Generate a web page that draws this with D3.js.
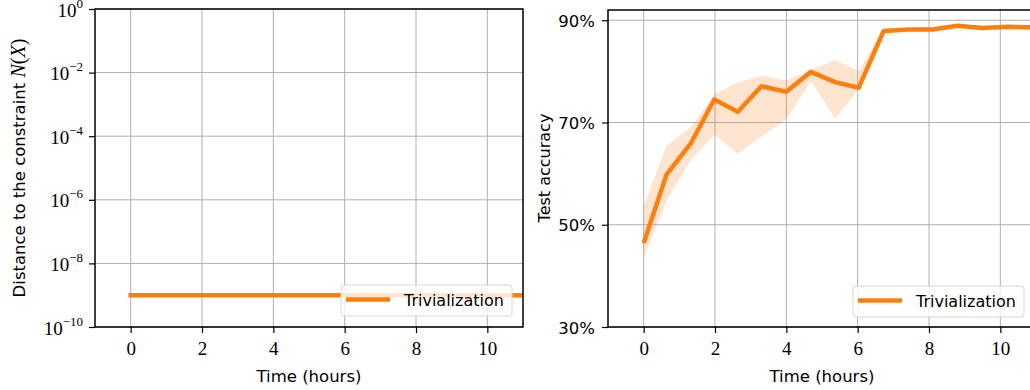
<!DOCTYPE html>
<html lang="en">
  <head>
    <meta charset="utf-8">
    <title>Trivialization</title>
    <script src="https://cdn.jsdelivr.net/npm/d3@7"></script>
    <style>
      body { margin: 0; background: #fff; }
      svg { display: block; }
      .grid line { stroke: #b0b0b0; stroke-width: 1; }
      .sans { font-family: "DejaVu Sans", sans-serif; }
      .serif { font-family: "Liberation Serif", "DejaVu Serif", serif; }
    </style>
  </head>
  <body>
    <div id="chart"></div>
    <script>

// data
var hours = [0, 0.64, 1.32, 1.98, 2.64, 3.30, 4.0, 4.69, 5.37, 6.03, 6.73, 7.42, 8.10, 8.79, 9.49, 10.2, 10.9, 11.6];
var accuracy = [46.4, 59.8, 65.9, 74.5, 72.1, 77.1, 76.0, 79.9, 77.9, 76.8, 87.9, 88.2, 88.2, 88.9, 88.5, 88.7, 88.6, 88.6];
var accUpper = [53.6, 65.4, 69.0, 75.5, 77.8, 79.2, 78.2, 80.3, 82.2, 80.1, 88.3, 88.5, 88.5, 89.1, 88.7, 88.9, 88.8, 88.8];
var accLower = [43.5, 54.6, 62.7, 67.6, 63.9, 67.3, 70.6, 78.1, 70.8, 76.5, 87.5, 87.9, 88.0, 88.7, 88.3, 88.5, 88.4, 88.4];
var constraintDist = [1e-9, 1e-9, 1e-9, 1e-9, 1e-9, 1e-9, 1e-9, 1e-9, 1e-9, 1e-9, 1e-9, 1e-9, 1e-9, 1e-9, 1e-9, 1e-9, 1e-9, 1e-9];
var xTicks = [0, 2, 4, 6, 8, 10];
var logTicks = [0, -2, -4, -6, -8, -10];
var pctTicks = [30, 50, 70, 90];
var seriesName = "Trivialization";

var orange = "#ff7f0e";

var svg = d3.select("#chart").append("svg")
	.attr("width", 1030)
	.attr("height", 390);

function panel(id, left, top, w, h, y, yTickVals, yTickFmt) {
	var x = d3.scaleLinear().domain([-1, 11]).range([0, w]);
	var g = svg.append("g").attr("transform", "translate(" + left + "," + top + ")");

	g.append("clipPath").attr("id", id)
		.append("rect").attr("width", w).attr("height", h);

	// grid
	var grid = g.append("g").attr("class", "grid");
	grid.selectAll(".gx").data(xTicks).enter().append("line")
		.attr("x1", function(d) { return x(d); }).attr("x2", function(d) { return x(d); })
		.attr("y1", 0).attr("y2", h);
	grid.selectAll(".gy").data(yTickVals).enter().append("line")
		.attr("x1", 0).attr("x2", w)
		.attr("y1", function(d) { return y(d); }).attr("y2", function(d) { return y(d); });

	var plot = g.append("g").attr("clip-path", "url(#" + id + ")");

	// axes
	var xa = g.append("g").attr("transform", "translate(0," + h + ")")
		.call(d3.axisBottom(x).tickValues(xTicks).tickSize(6).tickFormat(""));
	xa.selectAll(".tick").append("text").attr("class", "serif")
		.attr("y", 355 - top - h).attr("text-anchor", "middle")
		.style("font-size", "19px").attr("fill", "#000")
		.text(function(d) { return d; });

	var ya = g.append("g")
		.call(d3.axisLeft(y).tickValues(yTickVals).tickSize(6).tickFormat(""));
	ya.selectAll(".tick").each(function(d) {
		yTickFmt(d3.select(this), d);
	});

	[xa, ya].forEach(function(a) {
		a.select(".domain").remove();
		a.selectAll("line").attr("stroke", "#000").attr("stroke-width", 1.2);
	});

	g.append("rect").attr("width", w).attr("height", h)
		.attr("fill", "none").attr("stroke", "#000").attr("stroke-width", 1.5);

	g.append("text").attr("class", "sans")
		.attr("x", w / 2).attr("y", 382 - top)
		.attr("text-anchor", "middle").style("font-size", "16.5px")
		.text("Time (hours)");

	return { g: g, plot: plot, x: x, w: w, h: h };
}

function legend(p, bx, by) {
	var lg = p.g.append("g").attr("transform", "translate(" + bx + "," + by + ")");
	lg.append("rect").attr("width", 171).attr("height", 31).attr("rx", 3)
		.attr("fill", "#fff").attr("fill-opacity", 0.8)
		.attr("stroke", "#d6d6d6").attr("stroke-width", 1);
	lg.append("line").attr("x1", 5).attr("x2", 49).attr("y1", 14.5).attr("y2", 14.5)
		.attr("stroke", orange).attr("stroke-width", 4.5);
	lg.append("text").attr("class", "sans").attr("x", 63).attr("y", 21)
		.style("font-size", "16px").text(seriesName);
}

// left panel: distance to the constraint, log scale
var yLog = d3.scaleLog().domain([1e-10, 1]).range([318, 0]);
var left = panel("clipL", 95, 9, 428, 318, yLog, logTicks.map(function(e) { return Math.pow(10, e); }),
	function(t, d) {
		var e = Math.round(Math.log10(d));
		var tx = t.append("text").attr("class", "serif").attr("x", -12).attr("y", 7)
			.attr("text-anchor", "end").attr("fill", "#000");
		tx.append("tspan").style("font-size", "19px").text("10");
		tx.append("tspan").attr("dy", -9).style("font-size", "13px")
			.text(e < 0 ? "\u2212" + (-e) : String(e));
	});

left.plot.append("path")
	.datum(hours.map(function(h, i) { return [h, constraintDist[i]]; }))
	.attr("fill", "none").attr("stroke", orange).attr("stroke-width", 4.5)
	.attr("stroke-linecap", "square")
	.attr("d", d3.line().x(function(d) { return left.x(d[0]); }).y(function(d) { return yLog(d[1]); }));

legend(left, 246, 276);

var yl = svg.append("text").attr("class", "sans")
	.attr("transform", "translate(25,168) rotate(-90)")
	.attr("text-anchor", "middle").style("font-size", "16.5px");
yl.append("tspan").text("Distance to the constraint ");
yl.append("tspan").attr("class", "serif").style("font-style", "italic").style("font-size", "20px").text("N");
yl.append("tspan").attr("class", "serif").style("font-size", "20px").text("(");
yl.append("tspan").attr("class", "serif").style("font-style", "italic").style("font-size", "20px").text("X");
yl.append("tspan").attr("class", "serif").style("font-size", "20px").text(")");

// right panel: test accuracy
var yAcc = d3.scaleLinear().domain([30, 92]).range([317, 0]);
var right = panel("clipR", 608, 10, 428, 317, yAcc, pctTicks,
	function(t, d) {
		t.append("text").attr("class", "sans").attr("x", -13).attr("y", 6)
			.attr("text-anchor", "end").attr("fill", "#000")
			.style("font-size", "16.5px").text(d + "%");
	});

right.plot.append("path")
	.datum(hours.map(function(h, i) { return [h, accLower[i], accUpper[i]]; }))
	.attr("fill", orange).attr("fill-opacity", 0.2)
	.attr("d", d3.area()
		.x(function(d) { return right.x(d[0]); })
		.y0(function(d) { return yAcc(d[1]); })
		.y1(function(d) { return yAcc(d[2]); }));

right.plot.append("path")
	.datum(hours.map(function(h, i) { return [h, accuracy[i]]; }))
	.attr("fill", "none").attr("stroke", orange).attr("stroke-width", 4.5)
	.attr("stroke-linejoin", "round")
	.attr("d", d3.line().x(function(d) { return right.x(d[0]); }).y(function(d) { return yAcc(d[1]); }));

legend(right, 245, 276);

svg.append("text").attr("class", "sans")
	.attr("transform", "translate(550,168) rotate(-90)")
	.attr("text-anchor", "middle").style("font-size", "16px")
	.text("Test accuracy");

    </script>
  </body>
</html>
